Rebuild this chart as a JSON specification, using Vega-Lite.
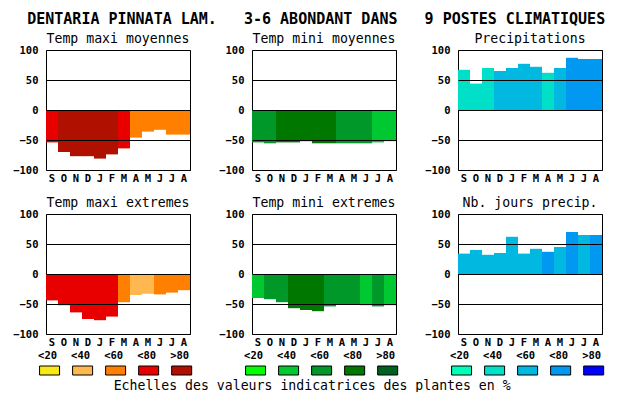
{
  "$schema": "https://vega.github.io/schema/vega-lite/v6.json",
  "padding": {"left": 12, "top": 12, "right": 0, "bottom": 0},
  "background": "white",
  "title": {"text": "DENTARIA PINNATA LAM.\u00a0\u00a0\u00a03-6 ABONDANT DANS\u00a0\u00a0\u00a09 POSTES CLIMATIQUES", "font": "DejaVu Sans Mono", "fontSize": 15, "fontWeight": "bold", "anchor": "middle", "offset": 4, "dx": 8, "color": "black"},
  "datasets": {
    "p1": [
      {"mois": "Sep", "valeur": -54, "classe": "<80"},
      {"mois": "Oct", "valeur": -70, "classe": ">80"},
      {"mois": "Nov", "valeur": -77, "classe": ">80"},
      {"mois": "Dec", "valeur": -77, "classe": ">80"},
      {"mois": "Jan", "valeur": -81, "classe": ">80"},
      {"mois": "Feb", "valeur": -74, "classe": ">80"},
      {"mois": "Mar", "valeur": -64, "classe": "<80"},
      {"mois": "Apr", "valeur": -46, "classe": "<60"},
      {"mois": "May", "valeur": -36, "classe": "<60"},
      {"mois": "Jun", "valeur": -33, "classe": "<60"},
      {"mois": "Jul", "valeur": -41, "classe": "<60"},
      {"mois": "Aug", "valeur": -41, "classe": "<60"}
    ],
    "p2": [
      {"mois": "Sep", "valeur": -54, "classe": "<60"},
      {"mois": "Oct", "valeur": -55.5, "classe": "<60"},
      {"mois": "Nov", "valeur": -54, "classe": "<80"},
      {"mois": "Dec", "valeur": -54, "classe": "<80"},
      {"mois": "Jan", "valeur": -52, "classe": "<80"},
      {"mois": "Feb", "valeur": -55.5, "classe": "<80"},
      {"mois": "Mar", "valeur": -55.5, "classe": "<80"},
      {"mois": "Apr", "valeur": -55.5, "classe": "<60"},
      {"mois": "May", "valeur": -55.5, "classe": "<60"},
      {"mois": "Jun", "valeur": -55.5, "classe": "<60"},
      {"mois": "Jul", "valeur": -54, "classe": "<40"},
      {"mois": "Aug", "valeur": -52, "classe": "<40"}
    ],
    "p3": [
      {"mois": "Sep", "valeur": 67, "classe": "<40"},
      {"mois": "Oct", "valeur": 44, "classe": "<40"},
      {"mois": "Nov", "valeur": 70, "classe": "<40"},
      {"mois": "Dec", "valeur": 65, "classe": "<60"},
      {"mois": "Jan", "valeur": 70, "classe": "<60"},
      {"mois": "Feb", "valeur": 77, "classe": "<60"},
      {"mois": "Mar", "valeur": 72, "classe": "<60"},
      {"mois": "Apr", "valeur": 62, "classe": "<40"},
      {"mois": "May", "valeur": 70, "classe": "<60"},
      {"mois": "Jun", "valeur": 87, "classe": "<80"},
      {"mois": "Jul", "valeur": 85, "classe": "<80"},
      {"mois": "Aug", "valeur": 85, "classe": "<80"}
    ],
    "p4": [
      {"mois": "Sep", "valeur": -44, "classe": "<80"},
      {"mois": "Oct", "valeur": -52, "classe": "<80"},
      {"mois": "Nov", "valeur": -64, "classe": "<80"},
      {"mois": "Dec", "valeur": -75, "classe": "<80"},
      {"mois": "Jan", "valeur": -77, "classe": "<80"},
      {"mois": "Feb", "valeur": -71, "classe": "<80"},
      {"mois": "Mar", "valeur": -47, "classe": "<60"},
      {"mois": "Apr", "valeur": -35, "classe": "<40"},
      {"mois": "May", "valeur": -33, "classe": "<40"},
      {"mois": "Jun", "valeur": -34, "classe": "<60"},
      {"mois": "Jul", "valeur": -31, "classe": "<60"},
      {"mois": "Aug", "valeur": -27, "classe": "<60"}
    ],
    "p5": [
      {"mois": "Sep", "valeur": -40, "classe": "<40"},
      {"mois": "Oct", "valeur": -42, "classe": "<60"},
      {"mois": "Nov", "valeur": -47, "classe": "<60"},
      {"mois": "Dec", "valeur": -57, "classe": "<80"},
      {"mois": "Jan", "valeur": -60, "classe": "<80"},
      {"mois": "Feb", "valeur": -62, "classe": "<80"},
      {"mois": "Mar", "valeur": -54, "classe": "<60"},
      {"mois": "Apr", "valeur": -50, "classe": "<60"},
      {"mois": "May", "valeur": -50, "classe": "<60"},
      {"mois": "Jun", "valeur": -52, "classe": "<40"},
      {"mois": "Jul", "valeur": -54, "classe": "<60"},
      {"mois": "Aug", "valeur": -52, "classe": "<40"}
    ],
    "p6": [
      {"mois": "Sep", "valeur": 34, "classe": "<60"},
      {"mois": "Oct", "valeur": 40, "classe": "<60"},
      {"mois": "Nov", "valeur": 32, "classe": "<60"},
      {"mois": "Dec", "valeur": 35, "classe": "<60"},
      {"mois": "Jan", "valeur": 62, "classe": "<60"},
      {"mois": "Feb", "valeur": 34, "classe": "<60"},
      {"mois": "Mar", "valeur": 42, "classe": "<60"},
      {"mois": "Apr", "valeur": 37, "classe": "<80"},
      {"mois": "May", "valeur": 45, "classe": "<60"},
      {"mois": "Jun", "valeur": 70, "classe": "<80"},
      {"mois": "Jul", "valeur": 65, "classe": "<60"},
      {"mois": "Aug", "valeur": 65, "classe": "<80"}
    ],
    "classes": [
      {"classe": "<20"}, {"classe": "<40"}, {"classe": "<60"}, {"classe": "<80"}, {"classe": ">80"}
    ]
  },
  "spacing": 2,
  "resolve": {"scale": {"color": "independent"}},
  "vconcat": [
    {
      "columns": 3,
      "bounds": "flush",
      "spacing": {"row": 44, "column": 62},
      "resolve": {"scale": {"color": "independent"}},
      "concat": [
        {
          "title": "Temp maxi moyennes", "width": 144, "height": 120,
          "data": {"name": "p1"}, "mark": "bar",
          "encoding": {
            "x": {"field": "mois", "type": "ordinal", "sort": ["Sep","Oct","Nov","Dec","Jan","Feb","Mar","Apr","May","Jun","Jul","Aug"], "scale": {"paddingInner": 0, "paddingOuter": 0}, "axis": {"title": null, "labelExpr": "substring(datum.label,0,1)"}},
            "y": {"field": "valeur", "type": "quantitative", "scale": {"domain": [-100, 100], "nice": false}, "axis": {"title": null, "values": [-100, -50, 0, 50, 100], "zindex": 1}},
            "color": {"field": "classe", "type": "nominal", "scale": {"domain": ["<20","<40","<60","<80",">80"], "range": ["#f8e818","#ffb850","#ff8000","#e80000","#b01000"]}, "legend": null}
          }
        },
        {
          "title": "Temp mini moyennes", "width": 144, "height": 120,
          "data": {"name": "p2"}, "mark": "bar",
          "encoding": {
            "x": {"field": "mois", "type": "ordinal", "sort": ["Sep","Oct","Nov","Dec","Jan","Feb","Mar","Apr","May","Jun","Jul","Aug"], "scale": {"paddingInner": 0, "paddingOuter": 0}, "axis": {"title": null, "labelExpr": "substring(datum.label,0,1)"}},
            "y": {"field": "valeur", "type": "quantitative", "scale": {"domain": [-100, 100], "nice": false}, "axis": {"title": null, "values": [-100, -50, 0, 50, 100], "zindex": 1}},
            "color": {"field": "classe", "type": "nominal", "scale": {"domain": ["<20","<40","<60","<80",">80"], "range": ["#00ff00","#00c830","#009828","#007800","#006020"]}, "legend": null}
          }
        },
        {
          "title": "Precipitations", "width": 144, "height": 120,
          "data": {"name": "p3"}, "mark": "bar",
          "encoding": {
            "x": {"field": "mois", "type": "ordinal", "sort": ["Sep","Oct","Nov","Dec","Jan","Feb","Mar","Apr","May","Jun","Jul","Aug"], "scale": {"paddingInner": 0, "paddingOuter": 0}, "axis": {"title": null, "labelExpr": "substring(datum.label,0,1)"}},
            "y": {"field": "valeur", "type": "quantitative", "scale": {"domain": [-100, 100], "nice": false}, "axis": {"title": null, "values": [-100, -50, 0, 50, 100], "zindex": 1}},
            "color": {"field": "classe", "type": "nominal", "scale": {"domain": ["<20","<40","<60","<80",">80"], "range": ["#00ffb8","#00e0c8","#00b8e0","#0098f0","#0000ff"]}, "legend": null}
          }
        },
        {
          "title": "Temp maxi extremes", "width": 144, "height": 120,
          "data": {"name": "p4"}, "mark": "bar",
          "encoding": {
            "x": {"field": "mois", "type": "ordinal", "sort": ["Sep","Oct","Nov","Dec","Jan","Feb","Mar","Apr","May","Jun","Jul","Aug"], "scale": {"paddingInner": 0, "paddingOuter": 0}, "axis": {"title": null, "labelExpr": "substring(datum.label,0,1)"}},
            "y": {"field": "valeur", "type": "quantitative", "scale": {"domain": [-100, 100], "nice": false}, "axis": {"title": null, "values": [-100, -50, 0, 50, 100], "zindex": 1}},
            "color": {"field": "classe", "type": "nominal", "scale": {"domain": ["<20","<40","<60","<80",">80"], "range": ["#f8e818","#ffb850","#ff8000","#e80000","#b01000"]}, "legend": null}
          }
        },
        {
          "title": "Temp mini extremes", "width": 144, "height": 120,
          "data": {"name": "p5"}, "mark": "bar",
          "encoding": {
            "x": {"field": "mois", "type": "ordinal", "sort": ["Sep","Oct","Nov","Dec","Jan","Feb","Mar","Apr","May","Jun","Jul","Aug"], "scale": {"paddingInner": 0, "paddingOuter": 0}, "axis": {"title": null, "labelExpr": "substring(datum.label,0,1)"}},
            "y": {"field": "valeur", "type": "quantitative", "scale": {"domain": [-100, 100], "nice": false}, "axis": {"title": null, "values": [-100, -50, 0, 50, 100], "zindex": 1}},
            "color": {"field": "classe", "type": "nominal", "scale": {"domain": ["<20","<40","<60","<80",">80"], "range": ["#00ff00","#00c830","#009828","#007800","#006020"]}, "legend": null}
          }
        },
        {
          "title": "Nb. jours precip.", "width": 144, "height": 120,
          "data": {"name": "p6"}, "mark": "bar",
          "encoding": {
            "x": {"field": "mois", "type": "ordinal", "sort": ["Sep","Oct","Nov","Dec","Jan","Feb","Mar","Apr","May","Jun","Jul","Aug"], "scale": {"paddingInner": 0, "paddingOuter": 0}, "axis": {"title": null, "labelExpr": "substring(datum.label,0,1)"}},
            "y": {"field": "valeur", "type": "quantitative", "scale": {"domain": [-100, 100], "nice": false}, "axis": {"title": null, "values": [-100, -50, 0, 50, 100], "zindex": 1}},
            "color": {"field": "classe", "type": "nominal", "scale": {"domain": ["<20","<40","<60","<80",">80"], "range": ["#00ffb8","#00e0c8","#00b8e0","#0098f0","#0000ff"]}, "legend": null}
          }
        }
      ]
    },
    {
      "spacing": 62,
      "bounds": "flush",
      "resolve": {"scale": {"color": "independent"}},
      "title": {"text": "Echelles des valeurs indicatrices des plantes en %", "orient": "bottom", "anchor": "middle", "offset": 4, "dx": -9},
      "hconcat": [
        {
          "width": 144, "height": 9, "view": {"stroke": null},
          "data": {"name": "classes"},
          "encoding": {"x": {"field": "classe", "type": "ordinal", "sort": ["<20","<40","<60","<80",">80"], "scale": {"type": "point", "padding": 0.18, "align": 0.3}, "axis": null}},
          "layer": [
            {"mark": {"type": "bar", "width": 20, "stroke": "black", "strokeWidth": 1},
             "encoding": {"color": {"field": "classe", "type": "nominal", "scale": {"domain": ["<20","<40","<60","<80",">80"], "range": ["#f8e818","#ffb850","#ff8000","#e80000","#b01000"]}, "legend": null}}},
            {"mark": {"type": "text", "dy": -15, "dx": -2, "fontWeight": "bold", "fontSize": 10.5, "font": "DejaVu Sans Mono", "color": "black"},
             "encoding": {"text": {"field": "classe"}}}
          ]
        },
        {
          "width": 144, "height": 9, "view": {"stroke": null},
          "data": {"name": "classes"},
          "encoding": {"x": {"field": "classe", "type": "ordinal", "sort": ["<20","<40","<60","<80",">80"], "scale": {"type": "point", "padding": 0.18, "align": 0.3}, "axis": null}},
          "layer": [
            {"mark": {"type": "bar", "width": 20, "stroke": "black", "strokeWidth": 1},
             "encoding": {"color": {"field": "classe", "type": "nominal", "scale": {"domain": ["<20","<40","<60","<80",">80"], "range": ["#00ff00","#00c830","#009828","#007800","#006020"]}, "legend": null}}},
            {"mark": {"type": "text", "dy": -15, "dx": -2, "fontWeight": "bold", "fontSize": 10.5, "font": "DejaVu Sans Mono", "color": "black"},
             "encoding": {"text": {"field": "classe"}}}
          ]
        },
        {
          "width": 144, "height": 9, "view": {"stroke": null},
          "data": {"name": "classes"},
          "encoding": {"x": {"field": "classe", "type": "ordinal", "sort": ["<20","<40","<60","<80",">80"], "scale": {"type": "point", "padding": 0.18, "align": 0.3}, "axis": null}},
          "layer": [
            {"mark": {"type": "bar", "width": 20, "stroke": "black", "strokeWidth": 1},
             "encoding": {"color": {"field": "classe", "type": "nominal", "scale": {"domain": ["<20","<40","<60","<80",">80"], "range": ["#00ffb8","#00e0c8","#00b8e0","#0098f0","#0000ff"]}, "legend": null}}},
            {"mark": {"type": "text", "dy": -15, "dx": -2, "fontWeight": "bold", "fontSize": 10.5, "font": "DejaVu Sans Mono", "color": "black"},
             "encoding": {"text": {"field": "classe"}}}
          ]
        }
      ]
    }
  ],
  "config": {
    "font": "DejaVu Sans Mono",
    "view": {"stroke": "black", "strokeWidth": 1},
    "axis": {"domain": false, "ticks": false, "labelFont": "DejaVu Sans Mono", "labelFontWeight": "bold", "labelFontSize": 10.5, "labelColor": "black", "gridColor": "black", "gridOpacity": 1, "gridWidth": 1},
    "axisX": {"grid": false, "labelAngle": 0, "labelPadding": 3},
    "axisY": {"labelPadding": 8},
    "title": {"font": "DejaVu Sans Mono", "fontSize": 13.2, "fontWeight": "normal", "color": "black", "offset": -1}
  }
}
